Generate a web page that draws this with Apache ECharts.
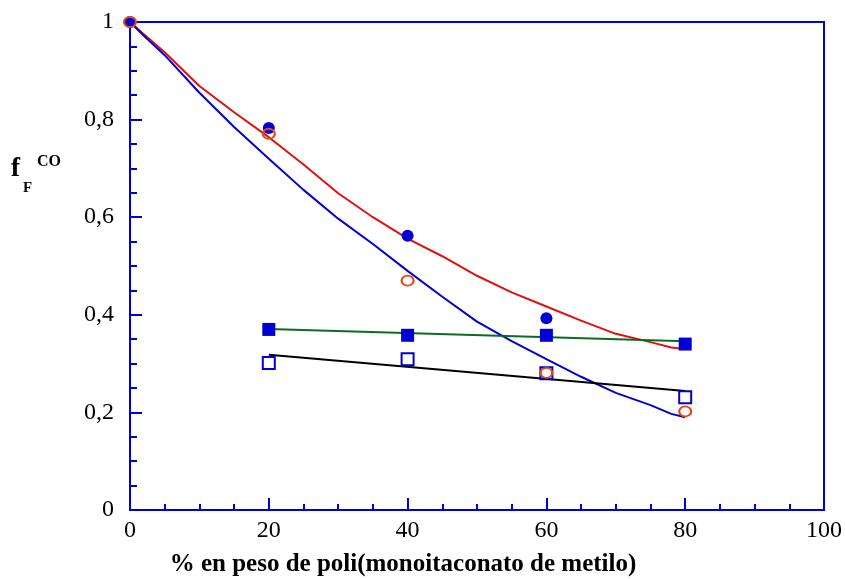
<!DOCTYPE html>
<html>
<head>
<meta charset="utf-8">
<script src="https://cdn.jsdelivr.net/npm/echarts@6/dist/echarts.min.js"></script>
<style>
  html, body { margin: 0; padding: 0; background: #fff; }
  #chart { width: 845px; height: 579px; }
</style>
</head>
<body>
<div id="chart"></div>
<script>
// Axis ticks
const xTicks = [0, 20, 40, 60, 80, 100];
const yTicks = [0, 0.2, 0.4, 0.6, 0.8, 1];

// Composition (% by weight of poly(methyl monoitaconate))
const composition = [0, 20, 40, 60, 80];

// Measured points
const filledCircles = [1.0, 0.783, 0.562, 0.393];          // 0..60
const openCircles   = [1.0, 0.771, 0.470, 0.281, 0.202];   // 0..80
const filledSquares = [0.370, 0.358, 0.358, 0.340];        // 20..80
const openSquares   = [0.301, 0.309, 0.280, 0.231];        // 20..80

// Model curves
const curveX    = [0, 2, 5, 10, 15, 20, 25, 30, 35, 40, 45, 50, 55, 60, 65, 70, 75, 78, 80];
const redCurve  = [1.0, 0.975, 0.938, 0.869, 0.815, 0.764, 0.708, 0.649, 0.600, 0.556, 0.520, 0.480, 0.446, 0.417, 0.388, 0.361, 0.344, 0.333, 0.330];
const blueCurve = [1.0, 0.972, 0.932, 0.855, 0.785, 0.720, 0.656, 0.597, 0.545, 0.490, 0.437, 0.386, 0.346, 0.309, 0.273, 0.240, 0.215, 0.197, 0.190];

// Linear fits
const greenFitX = [20, 80];
const greenFitY = [0.371, 0.346];
const blackFitX = [20, 80];
const blackFitY = [0.318, 0.244];

const BLUE = '#0000d4';
const RED = '#e01010';
const ORANGE = '#e24a12';
const GREEN = '#0b6b1e';
const SERIF = '"Liberation Serif", "Times New Roman", serif';

const pairs = (xs, ys) => ys.map((y, i) => [xs[i], y]);

const chart = echarts.init(document.getElementById('chart'), null, { renderer: 'canvas' });

chart.setOption({
  animation: false,
  backgroundColor: '#fff',
  grid: {
    left: 130, right: 18, top: 22, bottom: 69,
    show: true, borderColor: BLUE, borderWidth: 2, backgroundColor: 'transparent'
  },
  xAxis: {
    type: 'value',
    min: xTicks[0], max: xTicks[xTicks.length - 1], interval: 20,
    axisLine: { show: true, onZero: false, lineStyle: { color: BLUE, width: 2 } },
    axisTick: { show: true, inside: true, length: 12, lineStyle: { color: BLUE, width: 2 } },
    minorTick: { show: true, splitNumber: 4, length: 6, lineStyle: { color: BLUE, width: 2 } },
    splitLine: { show: false },
    axisLabel: { color: '#000', fontFamily: SERIF, fontSize: 24, margin: 9 }
  },
  yAxis: {
    type: 'value',
    min: yTicks[0], max: yTicks[yTicks.length - 1], interval: 0.2,
    axisLine: { show: true, onZero: false, lineStyle: { color: BLUE, width: 2 } },
    axisTick: { show: true, inside: true, length: 12, lineStyle: { color: BLUE, width: 2 } },
    minorTick: { show: true, splitNumber: 4, length: 7, lineStyle: { color: BLUE, width: 2 } },
    splitLine: { show: false },
    axisLabel: {
      color: '#000', fontFamily: SERIF, fontSize: 24, margin: 16,
      formatter: v => String(Math.round(v * 10) / 10).replace('.', ',')
    }
  },
  graphic: [
    { type: 'text', left: 11, top: 156, style: { text: 'f', font: 'bold 27px ' + SERIF, fill: '#000' } },
    { type: 'text', left: 23, top: 181, style: { text: 'F', font: 'bold 15px ' + SERIF, fill: '#000' } },
    { type: 'text', left: 37, top: 154, style: { text: 'CO', font: 'bold 16px ' + SERIF, fill: '#000' } },
    { type: 'text', x: 403, y: 565, style: {
        text: '% en peso de poli(monoitaconato de metilo)',
        font: 'bold 25px ' + SERIF, fill: '#000', align: 'center', verticalAlign: 'middle' } }
  ],
  series: [
    { type: 'line', data: pairs(curveX, redCurve), showSymbol: false, z: 2,
      lineStyle: { color: RED, width: 2 } },
    { type: 'line', data: pairs(curveX, blueCurve), showSymbol: false, z: 2,
      lineStyle: { color: BLUE, width: 2 } },
    { type: 'line', data: pairs(greenFitX, greenFitY), showSymbol: false, z: 3,
      lineStyle: { color: GREEN, width: 2 } },
    { type: 'line', data: pairs(blackFitX, blackFitY), showSymbol: false, z: 3,
      lineStyle: { color: '#000', width: 2 } },
    { type: 'scatter', data: pairs(composition, filledCircles), symbol: 'circle', symbolSize: 12, z: 4,
      itemStyle: { color: BLUE, opacity: 1 } },
    { type: 'scatter', data: pairs(composition.slice(1), filledSquares), symbol: 'rect', symbolSize: 13, z: 4,
      itemStyle: { color: BLUE, opacity: 1 } },
    { type: 'scatter', data: pairs(composition.slice(1), openSquares), symbol: 'rect', symbolSize: 12, z: 5,
      itemStyle: { color: 'transparent', borderColor: BLUE, borderWidth: 2, opacity: 1 } },
    { type: 'scatter', data: pairs(composition, openCircles), symbol: 'circle', symbolSize: [12, 10], z: 6,
      itemStyle: { color: 'transparent', borderColor: ORANGE, borderWidth: 2, opacity: 1 } }
  ]
});
</script>
</body>
</html>
